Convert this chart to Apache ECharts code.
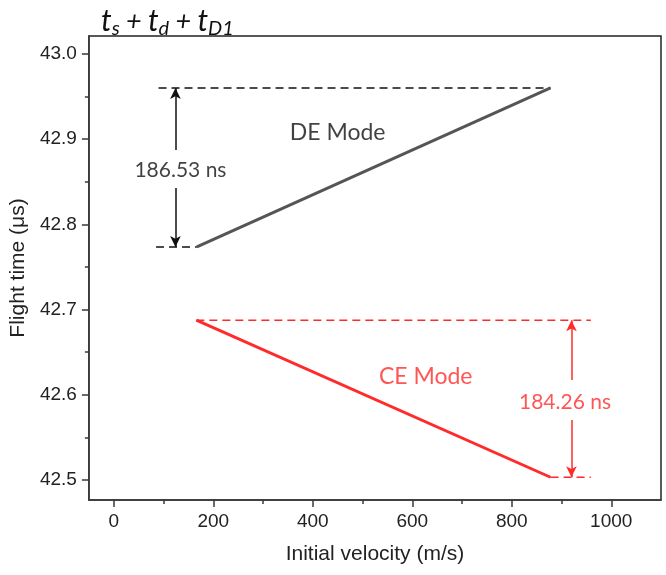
<!DOCTYPE html>
<html>
<head>
<meta charset="utf-8">
<script src="https://cdn.jsdelivr.net/npm/echarts@6/dist/echarts.min.js"></script>
<style>html,body{margin:0;padding:0;background:#fff}#c{width:666px;height:575px}</style>
</head>
<body>
<div id="c"></div>
<script>
// ---- data ----
const xTickValues = [0, 200, 400, 600, 800, 1000];
const xMinorTicks = [100, 300, 500, 700, 900];
const yTickValues = [42.5, 42.6, 42.7, 42.8, 42.9, 43.0];
const yMinorTicks = [42.55, 42.65, 42.75, 42.85, 42.95];

const deX = [167, 878];
const deY = [42.7735, 42.96];
const ceX = [166, 878];
const ceY = [42.6875, 42.5032];

// guide dashed lines (x extents)
const deTopGuideX = [90, 878];
const deBottomGuideX = [85, 167];
const ceTopGuideX = [166, 959];
const ceBottomGuideX = [878, 959];
// difference arrows (x position and gap left for the label)
const deArrowX = 124;
const deArrowGap = [42.8427, 42.8873];
const ceArrowX = 920;
const ceArrowGap = [42.5704, 42.6174];
// annotation texts
const deLabelText = '186.53 ns';
const deLabelPos = [134, 42.8638];
const ceLabelText = '184.26 ns';
const ceLabelPos = [907, 42.5915];
const deModeText = 'DE Mode';
const deModePos = [450, 42.9073];
const ceModeText = 'CE Mode';
const ceModePos = [627, 42.621];

const gray = '#555555';
const red = '#ff2b2b';
const axisColor = '#3a3a3a';
const txtFont = 'Lato';

function pts(xs, ys) { return xs.map((x, i) => [x, ys[i]]); }

function arrowPair(x, yLow, yHigh, gap) {
  return [
    [{coord: [x, gap[1]], symbol: 'none'}, {coord: [x, yHigh], symbol: 'arrow'}],
    [{coord: [x, gap[0]], symbol: 'none'}, {coord: [x, yLow], symbol: 'arrow'}]
  ];
}

const chart = echarts.init(document.getElementById('c'), null, {renderer: 'canvas'});
const option = {
  animation: false,
  title: {
    text: '{t|t}{s|s}{p| + }{t|t}{s|d}{p| + }{t|t}{s|D1}',
    left: 96, top: -2,
    textStyle: {
      fontWeight: 'normal',
      rich: {
        t: {fontFamily: txtFont, fontStyle: 'italic', fontWeight: 'normal', fontSize: 30, lineHeight: 36, color: '#111'},
        p: {fontFamily: txtFont, fontStyle: 'italic', fontWeight: 'normal', fontSize: 27, lineHeight: 36, color: '#111'},
        s: {fontFamily: txtFont, fontStyle: 'italic', fontWeight: 'normal', fontSize: 20, lineHeight: 20, verticalAlign: 'bottom', color: '#111'}
      }
    }
  },
  grid: {left: 88, right: 5, top: 36, bottom: 75, show: true, borderColor: '#222', borderWidth: 1.5, backgroundColor: 'transparent'},
  xAxis: [{
    type: 'value', min: -50, max: 1100, position: 'bottom',
    name: 'Initial velocity (m/s)', nameLocation: 'middle', nameGap: 44,
    nameTextStyle: {fontFamily: 'Liberation Sans', fontSize: 21, color: '#222'},
    axisLine: {show: true, onZero: false, lineStyle: {color: axisColor, width: 1.5}},
    axisTick: {show: true, inside: false, length: 7, customValues: xTickValues, lineStyle: {color: axisColor, width: 1.5}},
    axisLabel: {customValues: xTickValues, margin: 12, fontFamily: 'Liberation Sans', fontSize: 19, color: '#222',
      formatter: v => String(v)},
    splitLine: {show: false}
  }, {
    type: 'value', min: -50, max: 1100, position: 'bottom',
    axisLine: {show: false, onZero: false},
    axisTick: {show: true, inside: false, length: 4, customValues: xMinorTicks, lineStyle: {color: axisColor, width: 1.5}},
    axisLabel: {show: false},
    splitLine: {show: false}
  }],
  yAxis: [{
    type: 'value', min: 42.4765, max: 43.021, position: 'left',
    name: 'Flight time (\u03bcs)', nameLocation: 'middle', nameGap: 57, nameRotate: 90,
    nameTextStyle: {fontFamily: 'Liberation Sans', fontSize: 21, color: '#222'},
    axisLine: {show: true, onZero: false, lineStyle: {color: axisColor, width: 1.5}},
    axisTick: {show: true, inside: false, length: 7, customValues: yTickValues, lineStyle: {color: axisColor, width: 1.5}},
    axisLabel: {customValues: yTickValues, margin: 12, fontFamily: 'Liberation Sans', fontSize: 19, color: '#222',
      formatter: v => v.toFixed(1)},
    splitLine: {show: false}
  }, {
    type: 'value', min: 42.4765, max: 43.021, position: 'left',
    axisLine: {show: false, onZero: false},
    axisTick: {show: true, inside: false, length: 4, customValues: yMinorTicks, lineStyle: {color: axisColor, width: 1.5}},
    axisLabel: {show: false},
    splitLine: {show: false}
  }],
  series: [
    // guides
    {type: 'line', symbol: 'none', silent: true, data: pts(deTopGuideX, [deY[1], deY[1]]), lineStyle: {color: '#111', width: 1.5, type: [8, 5]}},
    {type: 'line', symbol: 'none', silent: true, data: pts(deBottomGuideX, [deY[0], deY[0]]), lineStyle: {color: '#111', width: 1.5, type: [8, 5]}},
    {type: 'line', symbol: 'none', silent: true, data: pts(ceTopGuideX, [ceY[0], ceY[0]]), lineStyle: {color: red, width: 1.5, type: [8, 5]}},
    {type: 'line', symbol: 'none', silent: true, data: pts(ceBottomGuideX, [ceY[1], ceY[1]]), lineStyle: {color: red, width: 1.5, type: [8, 5]}},
    // main lines
    {
      name: 'DE Mode', type: 'line', symbol: 'none', data: pts(deX, deY), lineStyle: {color: gray, width: 3},
      markLine: {
        silent: true, symbolSize: [8, 11], label: {show: false},
        lineStyle: {color: '#111', type: 'solid', width: 1.5},
        data: arrowPair(deArrowX, deY[0], deY[1], deArrowGap)
      },
      z: 3
    },
    {
      name: 'CE Mode', type: 'line', symbol: 'none', data: pts(ceX, ceY), lineStyle: {color: red, width: 3},
      markLine: {
        silent: true, symbolSize: [8, 11], label: {show: false},
        lineStyle: {color: red, type: 'solid', width: 1.5},
        data: arrowPair(ceArrowX, ceY[1], ceY[0], ceArrowGap)
      },
      z: 3
    },
    // text annotations
    {
      type: 'scatter', symbolSize: 0, silent: true, z: 10,
      data: [
        {value: deLabelPos, label: {formatter: deLabelText, color: '#111'}},
        {value: ceLabelPos, label: {formatter: ceLabelText, color: red}},
        {value: deModePos, label: {formatter: deModeText, color: '#111', fontSize: 23}},
        {value: ceModePos, label: {formatter: ceModeText, color: red, fontSize: 23}}
      ],
      label: {show: true, position: 'inside', fontFamily: txtFont, fontSize: 21}
    }
  ]
};
chart.setOption(option);
</script>
</body>
</html>
